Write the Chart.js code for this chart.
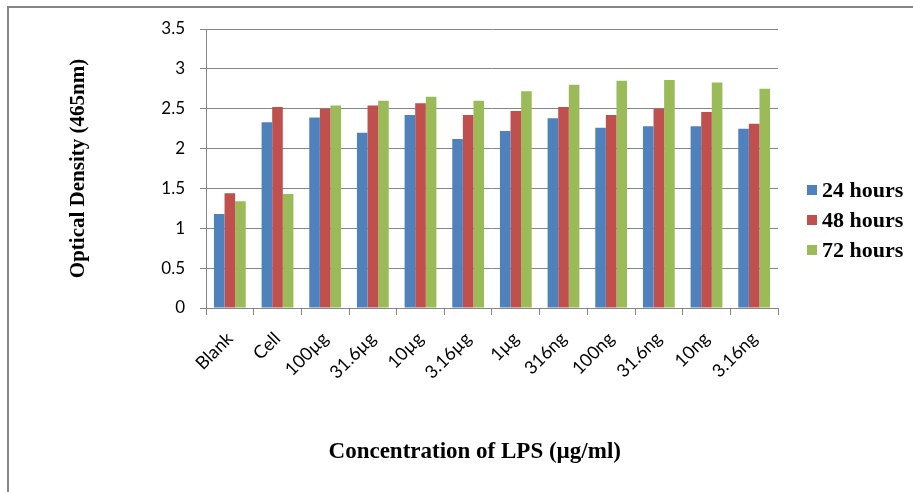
<!DOCTYPE html>
<html>
<head>
<meta charset="utf-8">
<script src="https://cdn.jsdelivr.net/npm/chart.js@4"></script>
<style>
html,body{margin:0;padding:0;background:#fff;overflow:hidden;width:913px;height:492px;}
#frame{position:absolute;left:7px;top:6px;width:1000px;height:1000px;border-left:2px solid #858585;border-top:2px solid #858585;}
#c{position:absolute;left:0;top:0;}
</style>
</head>
<body>
<div id="frame"></div>
<canvas id="c" width="913" height="492"></canvas>
<script>
const categories = ['Blank','Cell','100µg','31.6µg','10µg','3.16µg','1µg','316ng','100ng','31.6ng','10ng','3.16ng'];
const seriesNames = ['24 hours','48 hours','72 hours'];
const hours24 = [1.18,2.33,2.39,2.20,2.42,2.12,2.22,2.38,2.26,2.28,2.28,2.25];
const hours48 = [1.44,2.52,2.50,2.54,2.57,2.42,2.47,2.52,2.42,2.50,2.46,2.31];
const hours72 = [1.34,1.43,2.54,2.60,2.65,2.60,2.72,2.80,2.85,2.86,2.83,2.75];
const yTickLabels = ['0','0.5','1','1.5','2','2.5','3','3.5'];
const yAxisTitle = 'Optical Density (465nm)';
const xAxisTitle = 'Concentration of LPS (µg/ml)';

const colors = ['#4F81BD','#C0504D','#9BBB59'];
const gridColor = '#868686';

const legendPlugin = {
  id: 'sideLegend',
  afterDraw(chart) {
    const ctx = chart.ctx;
    ctx.save();
    ctx.font = 'bold 22px "Liberation Serif"';
    ctx.textBaseline = 'middle';
    ctx.textAlign = 'left';
    chart.data.datasets.forEach((ds, i) => {
      const y = 190 + i * 30;
      ctx.fillStyle = ds.backgroundColor;
      ctx.fillRect(807, y - 5, 10, 10);
      ctx.fillStyle = '#000';
      ctx.fillText(ds.label, 822, y + 1);
    });
    ctx.restore();
  }
};

new Chart(document.getElementById('c'), {
  type: 'bar',
  data: {
    labels: categories,
    datasets: [
      {label: seriesNames[0], data: hours24, backgroundColor: colors[0]},
      {label: seriesNames[1], data: hours48, backgroundColor: colors[1]},
      {label: seriesNames[2], data: hours72, backgroundColor: colors[2]}
    ]
  },
  options: {
    responsive: false,
    animation: false,
    devicePixelRatio: 1,
    layout: {padding: {top: 29, right: 135, left: 0, bottom: 0}},
    datasets: {bar: {categoryPercentage: 0.667, barPercentage: 1.0}},
    plugins: {legend: {display: false}, tooltip: {enabled: false}},
    scales: {
      x: {
        offset: true,
        grid: {display: true, drawOnChartArea: false, drawTicks: true, tickLength: 7, color: gridColor, offset: true},
        border: {display: true, color: gridColor, width: 1},
        ticks: {minRotation: 45, maxRotation: 45, padding: 13, color: '#000', font: {family: 'Lato', size: 18}, autoSkip: false},
        title: {display: true, text: xAxisTitle + '\u00a0\u00a0\u00a0\u00a0\u00a0\u00a0', color: '#000', font: {family: '"Liberation Serif"', size: 23, weight: 'bold'}, padding: {top: 0, bottom: 26}},
        afterFit(scale) { scale.height = 184; }
      },
      y: {
        min: 0, max: 3.5,
        grid: {color: gridColor, tickLength: 6, drawTicks: true},
        border: {display: true, color: gridColor, width: 1},
        ticks: {stepSize: 0.5, padding: 15, color: '#000', font: {family: 'Lato', size: 17},
          callback: (v, i) => yTickLabels[i]},
        title: {display: true, text: yAxisTitle, color: '#000', font: {family: '"Liberation Serif"', size: 21, weight: 'bold'}, padding: {top: 66, bottom: 0}},
        afterFit(scale) { scale.width = 206; }
      }
    }
  },
  plugins: [legendPlugin]
});
</script>
</body>
</html>
